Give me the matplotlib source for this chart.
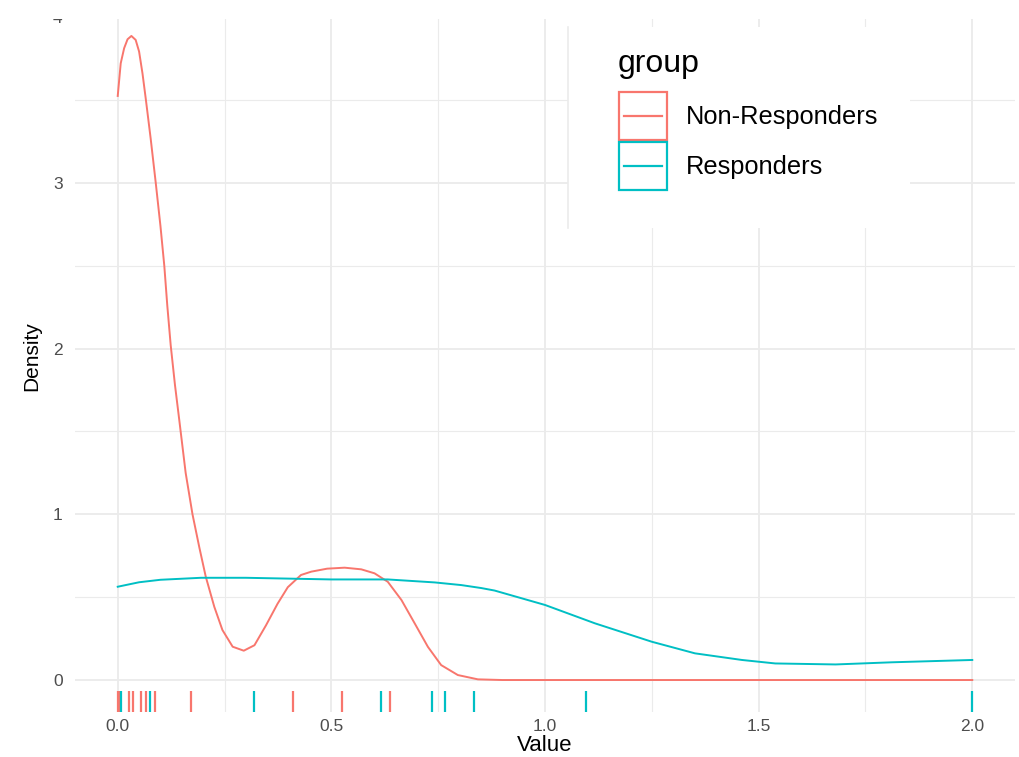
import matplotlib.pyplot as plt
from matplotlib.patches import Rectangle
from matplotlib.lines import Line2D
import matplotlib.transforms as mtransforms

plt.rcParams['font.family'] = ['Liberation Sans', 'DejaVu Sans']

# density curve of the Non-Responders group
non_resp_x = [0.000, 0.007, 0.015, 0.023, 0.032, 0.042, 0.050, 0.058, 0.066, 0.077,
              0.089, 0.100, 0.109, 0.116, 0.124, 0.134, 0.144, 0.159, 0.175, 0.191,
              0.206, 0.226, 0.245, 0.269, 0.295, 0.320, 0.347, 0.374, 0.398, 0.429,
              0.453, 0.490, 0.531, 0.570, 0.601, 0.632, 0.664, 0.695, 0.726, 0.757,
              0.796, 0.843, 0.900, 2.000]
non_resp_y = [3.525, 3.722, 3.813, 3.867, 3.887, 3.863, 3.793, 3.66, 3.50, 3.27,
              3.00, 2.74, 2.50, 2.26, 2.02, 1.78, 1.57, 1.25, 1.00, 0.80,
              0.624, 0.442, 0.302, 0.201, 0.177, 0.21, 0.33, 0.46, 0.56, 0.634,
              0.654, 0.672, 0.678, 0.668, 0.644, 0.593, 0.483, 0.342, 0.20, 0.09,
              0.03, 0.004, 0.0, 0.0]

# density curve of the Responders group
resp_x = [0.000, 0.05, 0.10, 0.195, 0.30, 0.40, 0.50, 0.632, 0.742, 0.804, 0.851,
          0.882, 1.000, 1.117, 1.25, 1.351, 1.461, 1.539, 1.68, 1.812, 2.000]
resp_y = [0.563, 0.59, 0.605, 0.617, 0.617, 0.612, 0.607, 0.607, 0.589, 0.573, 0.555,
          0.540, 0.453, 0.342, 0.231, 0.161, 0.121, 0.100, 0.094, 0.107, 0.121]

# raw observations shown as rug marks
non_resp_obs = [0.0, 0.004, 0.027, 0.036, 0.055, 0.065, 0.087, 0.171, 0.411, 0.526, 0.638]
resp_obs = [0.008, 0.076, 0.320, 0.616, 0.736, 0.765, 0.834, 1.095, 2.0]

groups = ['Non-Responders', 'Responders']
colors = ['#F8766D', '#00BFC4']


class KeyHandler:
    # ggplot-like legend key: outlined square with a line through the middle
    def legend_artist(self, legend, orig_handle, fontsize, handlebox):
        x0, y0 = -handlebox.xdescent, -handlebox.ydescent
        w, h = handlebox.width, handlebox.height
        c = orig_handle.get_color()
        tr = handlebox.get_transform()
        box = Rectangle((x0, y0), w, h, facecolor='white', edgecolor=c, lw=1.6, transform=tr)
        ln = Line2D([x0 + 0.1 * w, x0 + 0.9 * w], [y0 + h / 2, y0 + h / 2], color=c, lw=1.6,
                    transform=tr)
        handlebox.add_artist(box)
        handlebox.add_artist(ln)
        return box


W, H = 1019, 757
fig = plt.figure(figsize=(W / 100, H / 100), dpi=100)
ax = fig.add_axes([75 / W, (H - 712) / H, 940 / W, 712 / H])

ax.set_xlim(-0.1, 2.1)
ax.set_ylim(-0.193, 4.104)

# theme_minimal style grid
ax.set_xticks([0, 0.5, 1.0, 1.5, 2.0])
ax.set_xticks([0.25, 0.75, 1.25, 1.75], minor=True)
ax.set_yticks([0, 1, 2, 3, 4])
ax.set_yticks([0.5, 1.5, 2.5, 3.5], minor=True)
ax.grid(which='major', color='#EBEBEB', linewidth=1.3)
ax.grid(which='minor', color='#EBEBEB', linewidth=0.8)
ax.set_axisbelow(True)
for s in ax.spines.values():
    s.set_visible(False)
ax.tick_params(which='both', length=0)
ax.tick_params(axis='x', labelsize=12.5, labelcolor='#4D4D4D', pad=5)
ax.tick_params(axis='y', labelsize=12.5, labelcolor='#4D4D4D', pad=9)
ax.set_xticklabels(['0.0', '0.5', '1.0', '1.5', '2.0'])

lines = []
lines += ax.plot(non_resp_x, non_resp_y, color=colors[0], lw=1.4)
lines += ax.plot(resp_x, resp_y, color=colors[1], lw=1.4)

# rug marks at the bottom of the panel
trans = mtransforms.blended_transform_factory(ax.transData, ax.transAxes)
ax.vlines(non_resp_obs, 0, 0.0295, color=colors[0], lw=1.6, transform=trans)
ax.vlines(resp_obs, 0, 0.0295, color=colors[1], lw=1.6, transform=trans)

ax.set_xlabel('Value', fontsize=16, labelpad=1)
ax.set_ylabel('Density', fontsize=15, labelpad=8)

# white legend background
ax.add_patch(Rectangle((568 / W, 1 - 228 / H), 342 / W, 201 / H, transform=fig.transFigure,
                       facecolor='white', edgecolor='none', zorder=4.5, clip_on=False))
ax.add_line(Line2D([568 / W, 568 / W], [1 - 228 / H, 1 - 27 / H], transform=fig.transFigure,
                   color='#EBEBEB', lw=1.2, zorder=4.6, clip_on=False))

ax.legend(lines, groups, loc='upper left',
          bbox_to_anchor=(619 / W, 1 - 92 / H), bbox_transform=fig.transFigure,
          frameon=False, fontsize=18.3, borderpad=0, borderaxespad=0,
          handlelength=1.9, handleheight=2.53, labelspacing=0.08,
          handletextpad=0.72, handler_map={Line2D: KeyHandler()})
fig.text(618 / W, 1 - 72 / H, 'group', fontsize=23, va='baseline', ha='left', zorder=6)

# top strip of the picture is blank
fig.patches.append(Rectangle((0, 1 - 19 / H), 1, 19 / H, transform=fig.transFigure,
                             facecolor='white', edgecolor='none', zorder=10))

fig.savefig('out.png', dpi=100)
